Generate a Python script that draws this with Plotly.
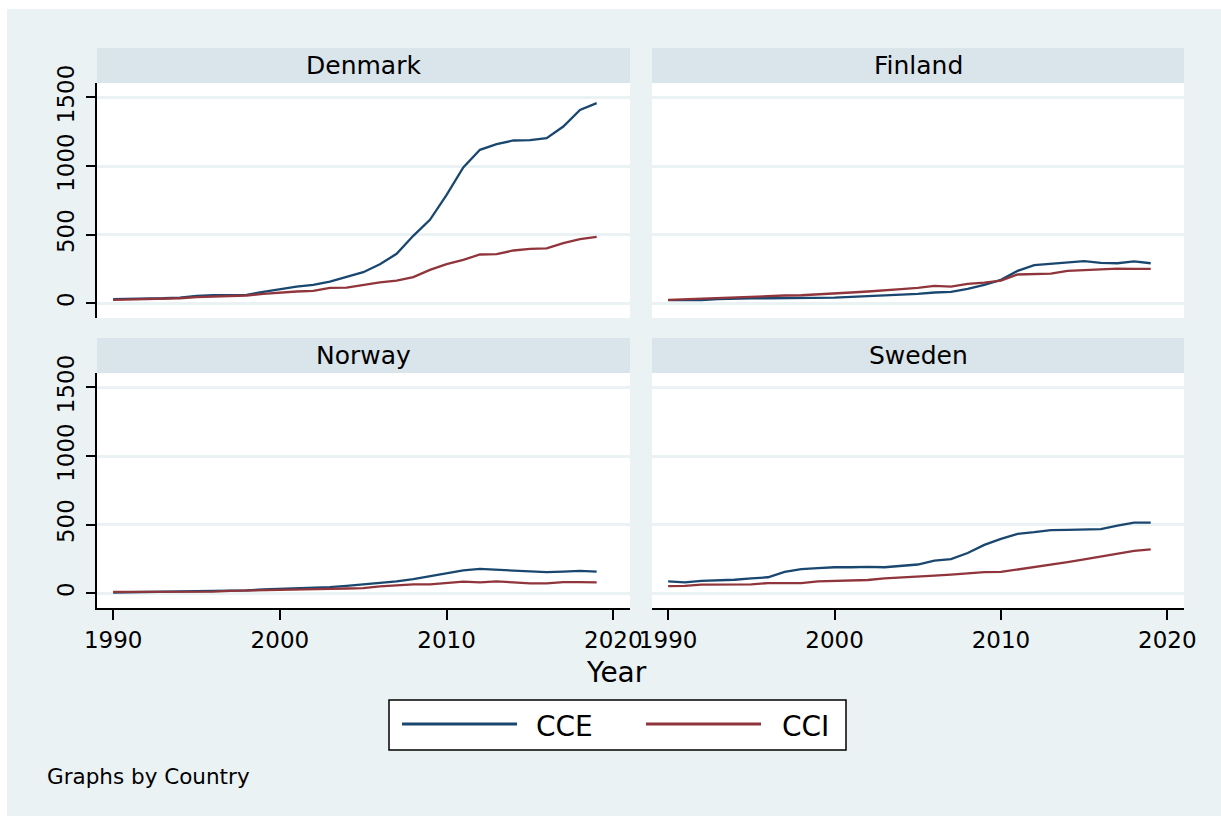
import plotly.graph_objects as go

W, H = 1221, 816

years = list(range(1990, 2020))
countries = ["Denmark", "Finland", "Norway", "Sweden"]

denmark_cce = [29, 30, 36, 36, 41, 53, 58, 61, 61, 83, 104, 121, 134, 158, 192, 226, 284, 360, 491, 608, 790, 990, 1118, 1159, 1186, 1188, 1203, 1288, 1409, 1458]
denmark_cci = [24, 27, 32, 32, 36, 44, 49, 51, 56, 68, 78, 85, 90, 112, 114, 134, 151, 165, 190, 243, 284, 316, 355, 357, 384, 396, 399, 437, 467, 484]
finland_cce = [22, 22, 22, 29, 34, 36, 36, 36, 36, 36, 41, 46, 51, 56, 61, 68, 78, 83, 104, 133, 170, 236, 277, 286, 299, 306, 294, 291, 304, 291]
finland_cci = [24, 29, 32, 39, 44, 51, 53, 56, 58, 63, 73, 78, 85, 92, 102, 112, 126, 121, 141, 150, 165, 209, 211, 216, 236, 243, 245, 252, 250, 250]
norway_cce = [5, 7, 8, 8, 9, 10, 12, 15, 20, 27, 30, 34, 39, 44, 54, 64, 76, 86, 103, 125, 148, 167, 177, 170, 165, 155, 153, 157, 162, 157]
norway_cci = [10, 10, 12, 12, 12, 12, 12, 17, 20, 25, 27, 30, 30, 32, 34, 37, 49, 57, 64, 64, 74, 84, 79, 86, 79, 71, 71, 81, 81, 79]
sweden_cce = [86, 79, 89, 91, 98, 108, 116, 155, 175, 182, 189, 189, 192, 189, 199, 209, 238, 248, 293, 352, 396, 433, 445, 460, 462, 465, 467, 492, 514, 514]
sweden_cci = [52, 54, 62, 62, 62, 64, 74, 76, 74, 86, 89, 93, 96, 108, 113, 123, 128, 135, 143, 153, 155, 172, 189, 204, 226, 246, 268, 285, 308, 320]

series_names = ["CCE", "CCI"]
series_colors = {"CCE": "#1a476f", "CCI": "#90353b"}
x_ticks = [1990, 2000, 2010, 2020]
y_ticks = [0, 500, 1000, 1500]

data = {
    "Denmark": (denmark_cce, denmark_cci),
    "Finland": (finland_cce, finland_cci),
    "Norway": (norway_cce, norway_cci),
    "Sweden": (sweden_cce, sweden_cci),
}

BG = "#eaf2f3"
HEADER = "#d9e5ea"
FONT = "DejaVu Sans"


def px(x):
    return x / W


def py(y):
    return 1 - y / H


# panel pixel boxes (left, right, top, bottom)
boxes = {
    "Denmark": (97, 630, 83, 318),
    "Finland": (652, 1184, 83, 318),
    "Norway": (97, 630, 373, 608),
    "Sweden": (652, 1184, 373, 608),
}
header_h = 35

fig = go.Figure()
layout_axes = {}
shapes = []
annotations = []

for i, c in enumerate(countries):
    n = i + 1
    xa = "x" if n == 1 else f"x{n}"
    ya = "y" if n == 1 else f"y{n}"
    xk = "xaxis" if n == 1 else f"xaxis{n}"
    yk = "yaxis" if n == 1 else f"yaxis{n}"
    l, r, t, b = boxes[c]
    cce, cci = data[c]
    for name, vals in zip(series_names, (cce, cci)):
        fig.add_trace(go.Scatter(
            x=years, y=vals, mode="lines", name=name,
            line=dict(color=series_colors[name], width=2.3),
            xaxis=xa, yaxis=ya, showlegend=False,
        ))
    bottom_row = c in ("Norway", "Sweden")
    left_col = c in ("Denmark", "Norway")
    layout_axes[xk] = dict(
        domain=[px(l), px(r)], range=[1989.03, 2021.0], anchor=ya,
        showgrid=False, zeroline=False, automargin=False,
        tickvals=x_ticks if bottom_row else [],
        showticklabels=bottom_row,
        ticks="outside" if bottom_row else "",
        ticklen=10, tickwidth=2, tickcolor="black",
        showline=bottom_row, linecolor="black", linewidth=2,
        tickfont=dict(family=FONT, size=23, color="black"),
    )
    layout_axes[yk] = dict(
        domain=[py(b), py(t)], range=[-108, 1605], anchor=xa,
        showgrid=True, gridcolor=BG, gridwidth=3, zeroline=False, automargin=False,
        tickvals=y_ticks,
        showticklabels=left_col,
        ticks="outside" if left_col else "",
        ticklen=9, tickwidth=2, tickcolor="black",
        showline=left_col, linecolor="black", linewidth=2,
        tickangle=-90, ticklabelstandoff=3,
        tickfont=dict(family=FONT, size=23, color="black"),
    )
    # header strip
    shapes.append(dict(type="rect", xref="paper", yref="paper",
                       x0=px(l), x1=px(r), y0=py(t), y1=py(t - header_h),
                       fillcolor=HEADER, line=dict(width=0), layer="above"))
    annotations.append(dict(text=c, xref="paper", yref="paper",
                            x=px((l + r) / 2), y=py(t - header_h / 2),
                            xanchor="center", yanchor="middle", showarrow=False,
                            font=dict(family=FONT, size=25, color="black")))

# white outer border (left and top)
shapes.append(dict(type="rect", xref="paper", yref="paper", x0=0, x1=px(7), y0=0, y1=1,
                   fillcolor="white", line=dict(width=0), layer="above"))
shapes.append(dict(type="rect", xref="paper", yref="paper", x0=0, x1=1, y0=py(9), y1=1,
                   fillcolor="white", line=dict(width=0), layer="above"))

# x-axis title
annotations.append(dict(text="Year", xref="paper", yref="paper", x=px(616), y=py(672),
                        xanchor="center", yanchor="middle", showarrow=False,
                        font=dict(family=FONT, size=28, color="black")))

# legend box
shapes.append(dict(type="rect", xref="paper", yref="paper",
                   x0=px(389), x1=px(846), y0=py(750), y1=py(700),
                   fillcolor="white", line=dict(color="black", width=1.5), layer="above"))
leg = [("CCE", 402, 517, 534), ("CCI", 646, 761, 780)]
for name, lx0, lx1, tx in leg:
    shapes.append(dict(type="line", xref="paper", yref="paper",
                       x0=px(lx0), x1=px(lx1), y0=py(724), y1=py(724),
                       line=dict(color=series_colors[name], width=3), layer="above"))
    annotations.append(dict(text=name, xref="paper", yref="paper", x=px(tx), y=py(726),
                            xanchor="left", yanchor="middle", showarrow=False,
                            font=dict(family=FONT, size=28, color="black")))

annotations.append(dict(text="Graphs by Country", xref="paper", yref="paper",
                        x=px(45), y=py(776), xanchor="left", yanchor="middle",
                        showarrow=False, font=dict(family=FONT, size=21.5, color="black")))

fig.update_layout(
    width=W, height=H,
    margin=dict(l=0, r=0, t=0, b=0, pad=0, autoexpand=False),
    paper_bgcolor=BG, plot_bgcolor="white",
    showlegend=False,
    shapes=shapes, annotations=annotations,
    font=dict(family=FONT, color="black"),
    **layout_axes,
)

fig.write_html(
    "out.html",
    post_script="document.body.style.margin='0';document.body.style.padding='0';"
                "document.body.style.overflow='hidden';",
)
